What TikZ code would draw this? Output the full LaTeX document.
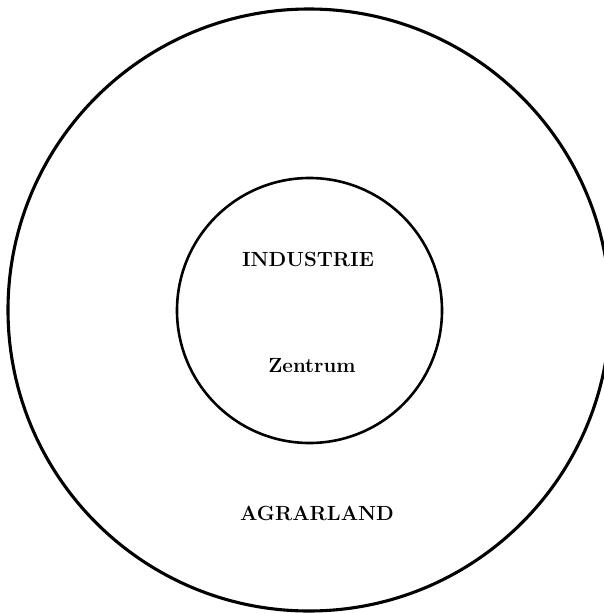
\documentclass[tikz,border=0pt]{standalone}
\usepackage{fontspec}
\usepackage{tikz}

\begin{document}
\begin{tikzpicture}[x=1pt, y=-1pt,
    ring/.style={draw=black, line width=3.1pt},
    core/.style={draw=black, line width=2.6pt},
    zonelabel/.style={font=\fontsize{20.5}{24}\selectfont\bfseries, inner sep=0pt}]
    % ---------------- frame ----------------
    \useasboundingbox (0,0) rectangle (604,613);
    \clip (0,0) rectangle (604,613);

    % ---------------- circles ----------------
    \coordinate (mid) at (309,310);
    \draw[ring] (mid) circle (301);
    \draw[core] (309.5,310.5) circle (132.5);

    % ---------------- labels ----------------
    \node[zonelabel] (industrie) at (308,259) {INDUSTRIE};
    \node[zonelabel] (zentrum) at (312,366) {Zentrum};
    \node[zonelabel] (agrarland) at (317,513.5) {AGRARLAND};
\end{tikzpicture}
\end{document}
